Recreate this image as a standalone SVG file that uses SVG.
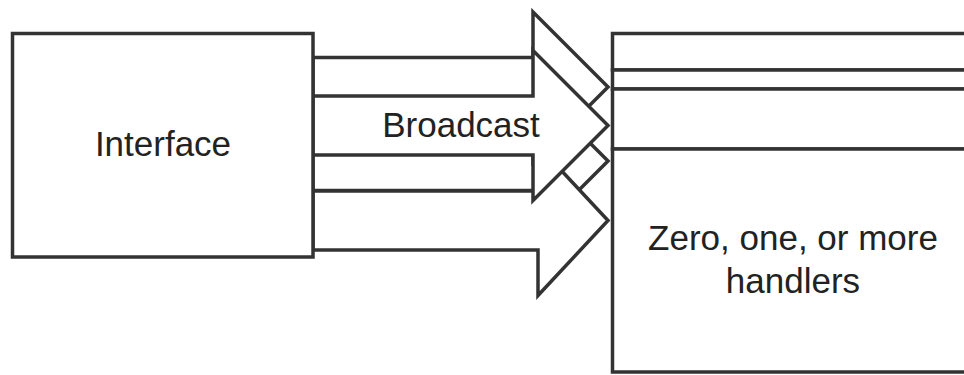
<svg xmlns="http://www.w3.org/2000/svg" width="964" height="375" viewBox="0 0 964 375">
  <style>
    .shape { fill: #ffffff; stroke: #333333; stroke-width: 3.5; stroke-linejoin: miter; }
    .arrow { fill: #ffffff; stroke: #333333; stroke-width: 3.5; stroke-linejoin: miter; stroke-miterlimit: 10; }
    .label { font-family: "Liberation Sans", Arial, sans-serif; font-size: 35px; fill: #222222; text-anchor: middle; }
  </style>
  <rect x="0" y="0" width="964" height="375" fill="#ffffff"/>
  <g id="connectors">
    <polygon id="arrow3" class="arrow" points="313,131.5 533,131.5 533,86 608,161 533,236 533,190.5 313,190.5"/>
    <polygon id="arrow4" class="arrow" points="313,191 538,191 538,145.5 608,220.5 538,295.5 538,250 313,250"/>
    <polygon id="arrow1" class="arrow" points="313,57.5 533,57.5 533,12 608,87 533,162 533,116.5 313,116.5"/>
    <polygon id="arrow2" class="arrow" points="313,96 533,96 533,50.5 608,125.5 533,200.5 533,155 313,155"/>
    <text class="label" x="461" y="137">Broadcast</text>
  </g>
  <g id="interface">
    <rect class="shape" x="12.5" y="33.5" width="300.5" height="223.5"/>
    <text class="label" x="163" y="156">Interface</text>
  </g>
  <g id="handler1">
    <rect class="shape" x="612.5" y="33.5" width="362" height="36.5"/>
  </g>
  <g id="handler2">
    <rect class="shape" x="612.5" y="70" width="362" height="19"/>
  </g>
  <g id="handler3">
    <rect class="shape" x="612.5" y="89" width="362" height="60"/>
  </g>
  <g id="handlers">
    <rect class="shape" x="612.5" y="149" width="362" height="223"/>
    <text class="label" x="793" y="250">Zero, one, or more</text>
    <text class="label" x="793" y="293">handlers</text>
  </g>
</svg>
